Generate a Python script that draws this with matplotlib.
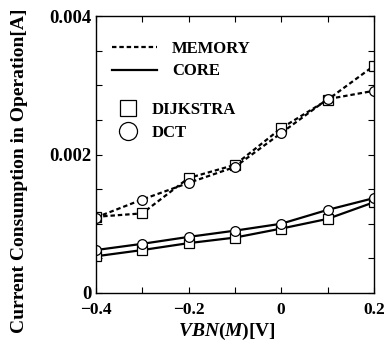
import matplotlib
matplotlib.use("Agg")
import matplotlib.pyplot as plt
from matplotlib.lines import Line2D
from matplotlib.ticker import MultipleLocator

plt.rcParams['font.family'] = ['Liberation Serif', 'DejaVu Serif']
plt.rcParams['font.weight'] = 'bold'
plt.rcParams['mathtext.fontset'] = 'custom'
plt.rcParams['mathtext.bfit'] = 'Liberation Serif:italic:bold'
plt.rcParams['mathtext.it'] = 'Liberation Serif:italic:bold'
plt.rcParams['mathtext.rm'] = 'Liberation Serif:bold'

vbn = [-0.4, -0.3, -0.2, -0.1, 0.0, 0.1, 0.2]
mem_dijkstra = [0.00110, 0.00115, 0.00166, 0.00185, 0.00238, 0.00279, 0.00328]
mem_dct = [0.00109, 0.00135, 0.00159, 0.00182, 0.00231, 0.00280, 0.00292]
core_dijkstra = [0.00053, 0.00062, 0.00072, 0.00080, 0.00093, 0.00107, 0.00131]
core_dct = [0.00062, 0.00071, 0.00081, 0.00090, 0.00100, 0.00120, 0.00137]

fig = plt.figure(figsize=(3.85, 3.49), dpi=100)
ax = fig.add_axes([0.249, 0.1605, 0.722, 0.7935])

dot = (0, (2.0, 1.3))
lw = 1.6
mk = dict(markerfacecolor='white', markeredgecolor='black', markeredgewidth=0.9)
ax.plot(vbn, mem_dijkstra, color='black', lw=lw, ls=dot, marker='s', ms=6.5, **mk)
ax.plot(vbn, mem_dct, color='black', lw=lw, ls=dot, marker='o', ms=7, **mk)
ax.plot(vbn, core_dijkstra, color='black', lw=lw, ls='-', marker='s', ms=6.5, **mk)
ax.plot(vbn, core_dct, color='black', lw=lw, ls='-', marker='o', ms=7, **mk)

ax.set_xlim(-0.4, 0.2)
ax.set_ylim(0, 0.004)
ax.set_xticks([-0.4, -0.2, 0, 0.2])
ax.set_xticklabels(['\u22120.4', '\u22120.2', '0', '0.2'])
ax.xaxis.set_minor_locator(MultipleLocator(0.1))
ax.set_yticks([0, 0.002, 0.004])
ax.set_yticklabels(['0', '0.002', '0.004'])
ax.yaxis.set_minor_locator(MultipleLocator(0.0005))
ax.tick_params(which='both', direction='in', top=True, right=True, width=0.8)
ax.tick_params(which='major', length=4)
ax.tick_params(axis='x', which='major', pad=6.5, labelsize=12.5)
ax.tick_params(axis='y', which='major', pad=3, labelsize=13.5)
ax.tick_params(which='minor', length=4)
for lab in ax.get_xticklabels() + ax.get_yticklabels():
    lab.set_fontweight('bold')
for s in ax.spines.values():
    s.set_linewidth(1.0)

ax.set_xlabel(r'$\mathit{VBN(M)}$[V]', fontsize=14, fontweight='bold')
ax.xaxis.set_label_coords(0.47, -0.1)
ax.set_ylabel('Current Consumption in Operation[A]', fontsize=14, fontweight='bold')
ax.yaxis.set_label_coords(-0.245, 0.442)

h1 = [Line2D([], [], color='black', lw=lw, ls=dot),
      Line2D([], [], color='black', lw=lw, ls='-')]
leg1 = ax.legend(h1, ['MEMORY', 'CORE'], loc='upper left', bbox_to_anchor=(0.035, 0.935),
                 frameon=False, handlelength=2.7, handletextpad=0.9, labelspacing=0.4,
                 prop={'size': 12, 'weight': 'bold'}, borderaxespad=0)
ax.add_artist(leg1)
h2 = [Line2D([], [], ls='none', marker='s', ms=11, **mk),
      Line2D([], [], ls='none', marker='o', ms=13, **mk)]
ax.legend(h2, ['DIJKSTRA', 'DCT'], loc='upper left', bbox_to_anchor=(0.055, 0.715),
          frameon=False, handlelength=1.2, handletextpad=0.8, labelspacing=0.45,
          prop={'size': 12, 'weight': 'bold'}, borderaxespad=0)

fig.savefig('out.png', dpi=100)
